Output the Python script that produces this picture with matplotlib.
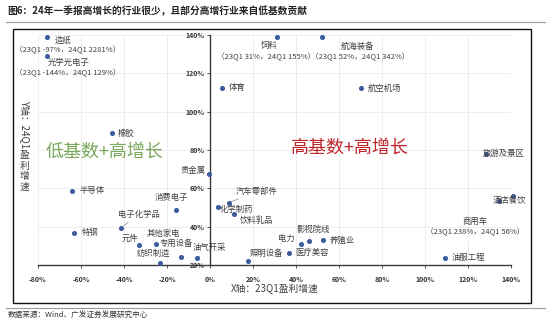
import numpy as np
import matplotlib
matplotlib.use('Agg')
import matplotlib.pyplot as plt
from matplotlib.patches import Rectangle
from matplotlib.lines import Line2D

plt.rcParams['font.family'] = ['Noto Sans CJK SC', 'DejaVu Sans']
plt.rcParams['axes.unicode_minus'] = False

# 行业盈利增速（%）：x = 23Q1，y = 24Q1
sectors = ['造纸', '光学光电子', '饲料', '航海装备', '体育', '航空机场', '橡胶',
           '半导体', '特钢', '消费电子', '电子化学品', '元件', '其他家电', '专用设备',
           '纺织制造', '油气开采', '贵金属', '汽车零部件', '化学制药', '饮料乳品',
           '照明设备', '医疗美容', '电力', '影视院线', '养殖业', '旅游及景区',
           '酒店餐饮', '商用车', '油服工程']
growth_23q1 = [-97, -144, 31, 52, 5.7, 70.2, -45.7,
               -64, -63.3, -15.8, -41.4, -32.9, -25.3, -13.6,
               -23.3, -5.9, -0.5, 8.8, 3.6, 11.2,
               17.5, 36.7, 42.2, 46.0, 52.4, 128.4,
               134.4, 238, 109.3]
growth_24q1 = [2281, 129, 155, 342, 112.6, 112.3, 88.8,
               58.8, 36.9, 48.7, 39.5, 30.4, 30.8, 24.0,
               20.9, 23.5, 67.4, 52.5, 50.3, 46.8,
               22.2, 26.1, 31.0, 32.7, 33.0, 78.0,
               53.6, 56, 23.8]

# 超出坐标范围的行业，另行标注实际数值
off_scale = ['造纸', '光学光电子', '饲料', '航海装备', '商用车']

x_ticks = np.arange(-80, 141, 20)
y_ticks = np.arange(20, 141, 20)

# 标签位置（数据坐标）与对齐方式
label_pos = {
    '造纸': (-72.5, 137.2, 'left'), '光学光电子': (-75.3, 126.0, 'left'),
    '饲料': (27.5, 134.4, 'center'), '航海装备': (68.5, 134.4, 'center'),
    '体育': (8.8, 112.6, 'left'), '航空机场': (73.5, 112.4, 'left'),
    '橡胶': (-42.8, 88.8, 'left'), '半导体': (-60.5, 58.8, 'left'),
    '特钢': (-59.5, 36.9, 'left'), '消费电子': (-18.1, 55.5, 'center'),
    '电子化学品': (-33.0, 46.4, 'center'), '元件': (-37.4, 34.1, 'center'),
    '其他家电': (-21.6, 36.7, 'center'), '专用设备': (-15.5, 31.5, 'center'),
    '纺织制造': (-26.3, 26.3, 'center'), '油气开采': (-0.5, 28.9, 'center'),
    '贵金属': (-1.9, 69.6, 'right'), '汽车零部件': (12.1, 58.6, 'left'),
    '化学制药': (4.7, 49.0, 'left'), '饮料乳品': (14.0, 43.1, 'left'),
    '照明设备': (18.6, 26.3, 'left'), '医疗美容': (39.5, 26.3, 'left'),
    '电力': (35.6, 33.8, 'center'), '影视院线': (48.1, 38.8, 'center'),
    '养殖业': (55.8, 33.1, 'left'), '旅游及景区': (127.0, 78.0, 'left'),
    '酒店餐饮': (131.6, 53.6, 'left'), '商用车': (123.3, 43.0, 'center'),
    '油服工程': (112.6, 23.7, 'left'),
}
sub_pos = {
    '造纸': (-66.3, 132.0), '光学光电子': (-66.3, 120.1),
    '饲料': (26.0, 128.5), '航海装备': (70.0, 128.5), '商用车': (123.3, 37.4),
}
leader = ['电子化学品', '油气开采', '汽车零部件', '影视院线']

fig = plt.figure(figsize=(5.5, 3.23), dpi=100)
fig.patch.set_facecolor('white')

# 外框与分隔线
fig.patches.append(Rectangle((0.0236, 0.062), 0.942, 0.848, transform=fig.transFigure,
                             fill=False, edgecolor='#111111', linewidth=1.0))
fig.lines.append(Line2D([0.01, 0.99], [0.932, 0.932], transform=fig.transFigure,
                        color='#9a9a9a', linewidth=0.8))
fig.lines.append(Line2D([0.01, 0.99], [0.046, 0.046], transform=fig.transFigure,
                        color='#9a9a9a', linewidth=0.8))
fig.text(0.014, 0.966, '图6：24年一季报高增长的行业很少，且部分高增行业来自低基数贡献',
         fontsize=7, fontweight='bold', color='#222222', va='center')
fig.text(0.014, 0.022, '数据来源：Wind、广发证券发展研究中心',
         fontsize=5.5, color='#333333', va='center')

ax = fig.add_axes([0.0691, 0.1796, 0.86, 0.7115])
ax.set_xlim(-80, 140)
ax.set_ylim(20, 140)
ax.set_xticks(x_ticks)
ax.set_yticks(y_ticks)
ax.set_xticklabels([f'{v}%' for v in x_ticks])
ax.set_yticklabels([f'{v}%' for v in y_ticks])
ax.grid(True, color='#ebebeb', linewidth=0.6)
ax.set_axisbelow(True)

for side in ['top', 'right']:
    ax.spines[side].set_visible(False)
ax.spines['left'].set_position(('data', 0))
ax.spines['left'].set_color('#3a3a3a')
ax.spines['bottom'].set_color('#3a3a3a')
ax.spines['left'].set_linewidth(1.0)
ax.spines['bottom'].set_linewidth(1.0)
ax.tick_params(axis='both', labelsize=5, colors='#333333', length=2, width=0.6)
ax.tick_params(axis='x', pad=6)
ax.tick_params(axis='y', pad=2)
for t in ax.get_xticklabels() + ax.get_yticklabels():
    t.set_fontweight('bold')

# 超出范围的点画在坐标边缘
x_plot = np.clip(growth_23q1, -76, 141)
y_plot = np.clip(growth_24q1, 20, 139)
ax.scatter(x_plot, y_plot, s=7, color='#3d5d9e', zorder=3, clip_on=False)

for name, xp, yp, x0, y0 in zip(sectors, x_plot, y_plot, growth_23q1, growth_24q1):
    lx, ly, ha = label_pos[name]
    props = None
    if name in leader:
        props = dict(arrowstyle='-', color='#8a8a8a', lw=0.5, shrinkA=1, shrinkB=2)
    ax.annotate(name, xy=(xp, yp), xytext=(lx, ly), textcoords='data',
                ha=ha, va='center', fontsize=6, color='#404040',
                arrowprops=props, zorder=4, annotation_clip=False)
    if name in off_scale:
        sx, sy = sub_pos[name]
        ax.text(sx, sy, f'（23Q1 {x0:g}%，24Q1 {y0:g}%）', ha='center', va='center',
                fontsize=5.5, color='#404040', zorder=4)

ax.text(-49.1, 79.0, '低基数+高增长', ha='center', va='center', fontsize=13,
        color='#7aa85c', style='italic')
ax.text(65.1, 81.1, '高基数+高增长', ha='center', va='center', fontsize=13,
        color='#c0272d', style='italic')

fig.text(0.50, 0.105, 'X轴：23Q1盈利增速', ha='center', va='center',
         fontsize=7, color='#404040')
# 纵轴标题：前半段旋转，中文竖排
fig.text(0.045, 0.69, 'Y轴：24Q1', ha='center', va='top',
         fontsize=7, color='#404040', rotation=270)
fig.text(0.045, 0.535, '盈\n利\n增\n速', ha='center', va='top',
         fontsize=7, color='#404040', linespacing=1.05)

fig.savefig('out.png', dpi=100, facecolor='white')
